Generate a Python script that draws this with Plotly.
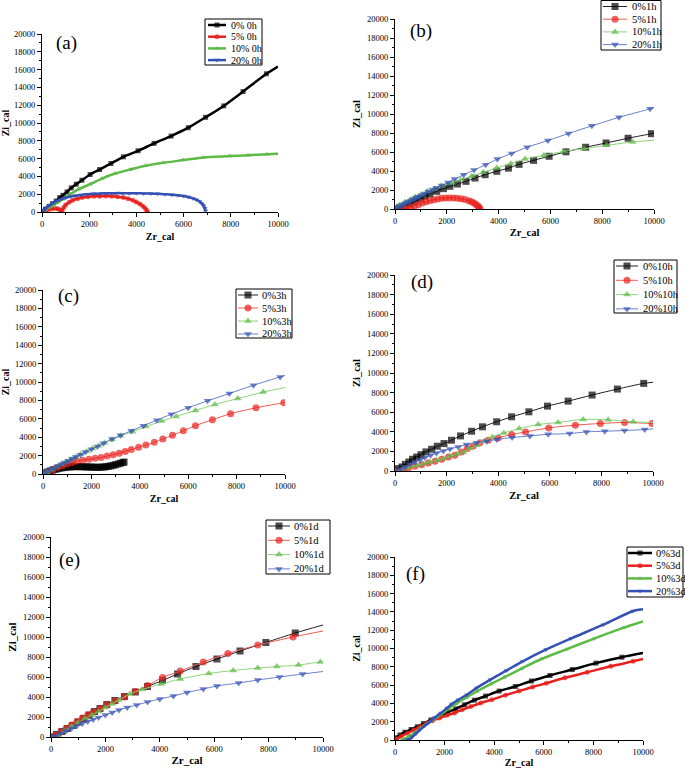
import plotly.graph_objects as go

W, H = 685, 769

# ---------------- data ----------------
# (a) 0h
a_names = ["0% 0h", "5% 0h", "10% 0h", "20% 0h"]
a_x_0 = [0,150,300,450,600,750,890,1060,1240,1450,1690,2040,2440,2920,3450,4070,4750,5470,6200,6930,7700,8520,9510,10000]
a_y_0 = [0,300,620,930,1230,1620,1880,2260,2710,3120,3570,4210,4770,5450,6200,6880,7710,8530,9470,10640,11920,13530,15530,16350]
a_x_1 = [0,150,300,450,600,700,780,850,920,1000,1150,1300,1500,1700,1950,2200,2450,2700,2950,3200,3450,3650,3850,4000,4150,4280,4380,4440,4470]
a_y_1 = [0,150,280,360,400,350,200,150,500,800,1100,1320,1500,1620,1710,1760,1780,1790,1770,1720,1620,1500,1310,1120,900,650,400,180,0]
a_x_2 = [0,150,300,500,700,850,1000,1200,1550,2040,2540,3100,3730,4390,5140,5990,6830,7960,8730,9540,10000]
a_y_2 = [0,250,500,800,1150,1400,1650,1990,2560,3120,3760,4320,4770,5190,5530,5830,6130,6280,6390,6500,6550]
a_x_3 = [0,100,200,350,500,650,800,1000,1200,1400,1650,1900,2200,2500,2800,3100,3400,3700,4000,4300,4600,4900,5200,5500,5750,6000,6200,6400,6550,6680,6780,6850,6900,6930]
a_y_3 = [0,250,500,800,1050,1250,1420,1600,1730,1830,1920,1990,2050,2090,2110,2120,2120,2115,2105,2090,2070,2040,2000,1950,1880,1790,1680,1530,1370,1170,940,700,420,100]

# (b) 1h
b_names = ["0%1h", "5%1h", "10%1h", "20%1h"]
b_x_0 = [0,190,390,580,770,970,1160,1350,1610,1870,2120,2410,2740,3090,3480,3930,4380,4790,5350,5950,6600,7360,8150,9000,9900,10000]
b_y_0 = [0,180,350,560,810,1090,1330,1580,1860,2140,2390,2630,2910,3260,3610,3970,4300,4700,5120,5550,6020,6500,6950,7450,7930,8000]
b_x_1 = [350,450,600,750,900,1050,1200,1350,1500,1650,1800,1950,2100,2250,2400,2550,2700,2850,2950,3050,3130,3200,3250,3280]
b_y_1 = [0,30,150,300,460,620,760,880,980,1060,1120,1160,1170,1160,1130,1070,990,880,760,620,470,320,170,30]
b_x_2 = [0,190,390,580,770,1000,1250,1510,1800,2190,2540,2960,3410,3930,4470,5020,5750,6530,7300,8170,9180,10000]
b_y_2 = [0,460,740,980,1260,1510,1860,2110,2460,2740,3090,3440,3860,4320,4770,5260,5650,6070,6350,6700,7050,7250]
b_x_3 = [0,100,200,300,400,500,600,700,800,900,1000,1150,1300,1450,1600,1800,2050,2300,2650,3050,3500,3950,4500,5100,5900,6700,7600,8650,9850,10000]
b_y_3 = [0,150,300,450,600,740,880,1020,1160,1300,1440,1640,1840,2040,2240,2480,2800,3150,3600,4100,4650,5250,5850,6500,7200,7950,8750,9650,10550,10700]

# (c) 3h
c_names = ["0%3h", "5%3h", "10%3h", "20%3h"]
c_x_0 = [0,100,200,300,400,500,600,700,800,900,1000,1100,1200,1300,1400,1500,1600,1700,1800,1900,2000,2100,2200,2300,2400,2500,2600,2700,2800,2900,3000,3100,3200,3300,3350]
c_y_0 = [0,120,230,330,420,500,570,630,680,720,750,770,790,800,800,800,790,780,770,760,750,740,730,730,740,760,790,830,880,940,1010,1090,1170,1250,1300]
c_x_1 = [0,200,400,600,800,1000,1200,1400,1650,1900,2150,2400,2650,2900,3150,3400,3650,3950,4250,4600,4950,5350,5800,6300,7000,7750,8800,9950,10000]
c_y_1 = [0,200,450,700,900,1100,1250,1400,1500,1600,1700,1800,1950,2100,2250,2450,2650,2900,3150,3450,3800,4200,4700,5250,5900,6550,7200,7750,7780]
c_x_2 = [0,150,350,550,750,950,1150,1350,1550,1800,2050,2300,2550,2850,3200,3700,4250,4900,5500,6300,7100,8050,9100,10000]
c_y_2 = [0,200,450,750,1030,1330,1580,1860,2150,2450,2780,3080,3400,3750,4150,4600,5150,5750,6250,6900,7550,8200,8900,9400]
c_x_3 = [0,150,300,450,600,750,900,1050,1200,1350,1550,1750,2000,2250,2500,2850,3200,3650,4150,4700,5300,6000,6800,7700,8700,9800,10000]
c_y_3 = [0,250,450,650,850,1050,1250,1450,1650,1850,2100,2400,2700,3000,3350,3800,4200,4700,5250,5850,6500,7200,7950,8750,9650,10550,10700]

# (d) 10h
d_names = ["0%10h", "5%10h", "10%10h", "20%10h"]
d_x_0 = [0,130,270,400,540,680,840,1010,1200,1420,1640,1900,2190,2540,2970,3390,3940,4520,5190,5910,6710,7640,8620,9640,10000]
d_y_0 = [0,240,410,680,920,1200,1430,1670,1950,2220,2530,2800,3140,3580,4060,4510,5020,5530,6040,6620,7130,7750,8360,8940,9050]
d_x_1 = [0,320,520,770,1030,1290,1550,1810,2070,2320,2580,2800,3030,3290,3610,4000,4520,5060,5960,6990,7960,8900,9960,10000]
d_y_1 = [0,140,270,480,650,820,990,1200,1430,1600,1950,2290,2560,2870,3140,3380,3720,3990,4400,4680,4850,4950,4850,4850]
d_x_2 = [0,320,580,840,1100,1350,1610,1870,2130,2390,2650,2900,3160,3450,3780,4220,4810,5550,6320,7290,8260,9230,10000]
d_y_2 = [0,240,410,580,750,920,1090,1260,1500,1710,1950,2290,2630,3040,3480,3890,4330,4740,4950,5260,5220,5020,4950]
d_x_3 = [0,220,390,580,770,970,1160,1380,1610,1870,2130,2450,2770,3160,3550,3940,4540,5230,5940,6770,7420,8130,8900,9680,10000]
d_y_3 = [0,200,410,680,920,1160,1370,1600,1840,2050,2250,2460,2700,2870,3040,3210,3410,3580,3750,3820,3990,4060,4130,4230,4300]

# (e) 1d
e_names = ["0%1d", "5%1d", "10%1d", "20%1d"]
e_x_0 = [0,200,400,600,800,1000,1200,1400,1600,1800,2050,2350,2700,3100,3550,4100,4650,5330,6100,6950,7900,8980,10000]
e_y_0 = [0,250,550,850,1150,1500,1850,2200,2550,2850,3250,3650,4050,4500,5050,5650,6300,7050,7800,8600,9450,10400,11200]
e_x_1 = [0,150,350,550,750,950,1150,1350,1550,1800,2050,2350,2700,3100,3550,4100,4750,5600,6500,7600,8900,10000]
e_y_1 = [0,150,500,850,1200,1550,1900,2200,2500,2850,3200,3600,4000,4550,5150,5950,6600,7500,8350,9200,10000,10600]
e_x_2 = [300,500,750,1000,1250,1500,1750,2000,2250,2500,2900,3350,4050,4750,5800,6700,7600,8300,9100,9900,10000]
e_y_2 = [0,600,1050,1450,1850,2200,2550,2950,3300,3700,4300,4750,5300,5800,6350,6650,6900,7050,7200,7500,7500]
e_x_3 = [0,150,350,550,750,950,1150,1350,1550,1750,2000,2250,2500,2800,3150,3550,4000,4500,5000,5600,6100,6900,7600,8400,9250,10000]
e_y_3 = [0,100,350,600,850,1100,1350,1550,1750,1950,2200,2450,2700,2950,3200,3500,3800,4100,4450,4800,5100,5400,5700,6000,6300,6550]

# (f) 3d
f_names = ["0%3d", "5%3d", "10%3d", "20%3d"]
f_x_0 = [0,50,200,400,650,900,1150,1450,1800,2100,2450,2800,3200,3650,4200,4850,5500,6250,7150,8100,9150,10000]
f_y_0 = [0,250,550,850,1150,1450,1800,2200,2600,3000,3400,3850,4350,4800,5350,5850,6450,7050,7700,8400,9050,9500]
f_x_1 = [0,50,250,500,750,1000,1250,1500,1800,2100,2400,2700,3050,3450,3900,4450,5000,5550,6100,6850,7750,8700,9600,10000]
f_y_1 = [0,100,400,750,1100,1450,1800,2100,2400,2700,2950,3300,3650,4050,4400,4900,5350,5800,6200,6800,7400,8050,8600,8850]
f_x_2 = [250,400,600,800,1050,1300,1550,1850,2150,2450,2850,3300,3850,4400,5100,5900,6900,8000,9200,10000]
f_y_2 = [0,150,450,800,1300,1800,2250,2800,3400,3950,4600,5300,6100,6850,7800,8850,9900,11050,12250,12950]
f_x_3 = [450,600,700,850,1000,1200,1400,1600,1850,2100,2300,2550,2900,3300,3850,4500,5150,6100,7100,8400,9600,10000]
f_y_3 = [0,100,350,700,1100,1550,2000,2450,2950,3500,3950,4400,4950,5700,6600,7600,8600,9900,11100,12600,14100,14300]

x_ticks = [0, 2000, 4000, 6000, 8000, 10000]
y_ticks = [0, 2000, 4000, 6000, 8000, 10000, 12000, 14000, 16000, 18000, 20000]

# ---------------- styling / layout ----------------
COLORS = ['#000000', '#e8211c', '#5dbb45', '#3450b4']
LINE_COLORS_THIN = ['#222222', '#f05a55', '#8fd47a', '#6b80cc']
SYMBOLS = ['square', 'circle', 'triangle-up', 'triangle-down']
FONT = '"Liberation Serif", "Times New Roman", serif'

panels = [
    dict(label='(a)', names=a_names, xs=[a_x_0, a_x_1, a_x_2, a_x_3], ys=[a_y_0, a_y_1, a_y_2, a_y_3],
         px=(42, 278), py=(34, 212), lw=2.5, ms=5, thick=True, lab=(1017, 18990),
         leg=dict(box=(205, 19, 262, 65), r0=25, dr=11.7, lx=(208, 226), tx=229, fs=10), tfs=10, so=4),
    dict(label='(b)', names=b_names, xs=[b_x_0, b_x_1, b_x_2, b_x_3], ys=[b_y_0, b_y_1, b_y_2, b_y_3],
         px=(395, 654), py=(19, 209), lw=1, ms=7, thick=False, lab=(990, 18770),
         leg=dict(box=(601, 0.5, 661, 50), r0=6.5, dr=12.7, lx=(603, 627), tx=630, fs=10.5), tfs=10.5, so=3),
    dict(label='(c)', names=c_names, xs=[c_x_0, c_x_1, c_x_2, c_x_3], ys=[c_y_0, c_y_1, c_y_2, c_y_3],
         px=(43, 285), py=(290, 474), lw=1, ms=7, thick=False, lab=(1045, 19300),
         leg=dict(box=(236, 289, 292, 338), r0=295, dr=13, lx=(238, 258), tx=260, fs=10.5), tfs=10, so=4),
    dict(label='(d)', names=d_names, xs=[d_x_0, d_x_1, d_x_2, d_x_3], ys=[d_y_0, d_y_1, d_y_2, d_y_3],
         px=(395, 653), py=(275, 471), lw=1, ms=7, thick=False, lab=(1058, 19300),
         leg=dict(box=(614, 260, 677, 313), r0=266, dr=14.3, lx=(616, 638), tx=641, fs=10.5), tfs=10.5, so=4),
    dict(label='(e)', names=e_names, xs=[e_x_0, e_x_1, e_x_2, e_x_3], ys=[e_y_0, e_y_1, e_y_2, e_y_3],
         px=(51, 323), py=(537, 737), lw=1, ms=7, thick=False, lab=(690, 17700),
         leg=dict(box=(266, 520, 330, 574), r0=526, dr=14.3, lx=(268, 290), tx=292, fs=10.5), tfs=11, so=3),
    dict(label='(f)', names=f_names, xs=[f_x_0, f_x_1, f_x_2, f_x_3], ys=[f_y_0, f_y_1, f_y_2, f_y_3],
         px=(395, 643), py=(557, 740), lw=2.5, ms=5, thick=True, lab=(835, 18140),
         leg=dict(box=(627, 547, 683, 597), r0=553, dr=12.7, lx=(628, 652), tx=654, fs=10.5), tfs=10, so=2),
]

fig = go.Figure()
layout = dict(width=W, height=H, autosize=False,
              margin=dict(l=0, r=0, t=0, b=0, pad=0, autoexpand=False),
              paper_bgcolor='white', plot_bgcolor='rgba(0,0,0,0)', showlegend=False,
              font=dict(family=FONT, color='black'))
annotations = []
shapes = []

for i, p in enumerate(panels, start=1):
    xa = 'x' if i == 1 else f'x{i}'
    ya = 'y' if i == 1 else f'y{i}'
    for k in range(4):
        xv, yv = p['xs'][k], p['ys'][k]
        sizes = [0 if (xx >= 10000 and j == len(xv) - 1) else p['ms'] for j, xx in enumerate(xv)]
        lc = COLORS[k] if p['thick'] else LINE_COLORS_THIN[k]
        fig.add_trace(go.Scatter(
            x=xv, y=yv, xaxis=xa, yaxis=ya, name=p['names'][k], mode='lines+markers',
            line=dict(color=lc, width=p['lw'], shape='spline', smoothing=0.8),
            marker=dict(symbol=SYMBOLS[k], size=sizes, color=COLORS[k], line=dict(width=0)),
            showlegend=False))
    xd = [p['px'][0] / W, p['px'][1] / W]
    yd = [1 - p['py'][1] / H, 1 - p['py'][0] / H]
    axcommon = dict(showline=True, linecolor='black', linewidth=1, ticks='outside', ticklen=4,
                    tickwidth=1, tickcolor='black', showgrid=False, zeroline=False, automargin=False,
                    tickfont=dict(family=FONT, size=8.5, color='black'),
                    minor=dict(ticks='outside', ticklen=2, tickwidth=1, tickcolor='black', dtick=1000, showgrid=False))
    layout['xaxis' if i == 1 else f'xaxis{i}'] = dict(
        domain=xd, anchor=ya, range=[0, 10000], tickvals=x_ticks, ticktext=[str(v) for v in x_ticks],
        title=dict(text='<b>Zr_cal</b>', font=dict(family=FONT, size=p['tfs']), standoff=p['so']), **axcommon)
    layout['yaxis' if i == 1 else f'yaxis{i}'] = dict(
        domain=yd, anchor=xa, range=[0, 20000], tickvals=y_ticks, ticktext=[str(v) for v in y_ticks],
        title=dict(text='<b>Zi_cal</b>', font=dict(family=FONT, size=p['tfs']), standoff=4), **axcommon)
    annotations.append(dict(text=p['label'], x=p['lab'][0], y=p['lab'][1], xref=xa, yref=ya,
                            showarrow=False, xanchor='center', yanchor='middle',
                            font=dict(family=FONT, size=19, color='black')))
    # legend box
    lg = p['leg']
    bx0, by0, bx1, by1 = lg['box']
    shapes.append(dict(type='rect', xref='paper', yref='paper', x0=bx0 / W, x1=bx1 / W,
                       y0=1 - by1 / H, y1=1 - by0 / H, line=dict(color='black', width=1),
                       fillcolor='white', layer='below'))
    for k in range(4):
        ry = lg['r0'] + k * lg['dr']
        lx0, lx1 = lg['lx']
        fig.add_trace(go.Scatter(
            x=[lx0, (lx0 + lx1) / 2, lx1], y=[ry, ry, ry], xaxis='x7', yaxis='y7', mode='lines+markers',
            line=dict(color=COLORS[k] if p['thick'] else LINE_COLORS_THIN[k], width=p['lw']),
            marker=dict(symbol=SYMBOLS[k], size=[0, p['ms'], 0], color=COLORS[k], line=dict(width=0)),
            showlegend=False, hoverinfo='skip', cliponaxis=False))
        annotations.append(dict(text=p['names'][k], x=lg['tx'] / W, y=1 - ry / H, xref='paper', yref='paper',
                                showarrow=False, xanchor='left', yanchor='middle',
                                font=dict(family=FONT, size=lg['fs'], color='black')))

layout['xaxis7'] = dict(domain=[0, 1], range=[0, W], visible=False, anchor='y7', fixedrange=True, automargin=False)
layout['yaxis7'] = dict(domain=[0, 1], range=[H, 0], visible=False, anchor='x7', fixedrange=True, automargin=False)
layout['annotations'] = annotations
layout['shapes'] = shapes
layout['hovermode'] = False
fig.update_layout(**layout)
fig.write_html("out.html", config={'displayModeBar': False, 'staticPlot': True},
               post_script="document.body.style.margin='0';document.body.style.padding='0';document.body.style.overflow='hidden';")
